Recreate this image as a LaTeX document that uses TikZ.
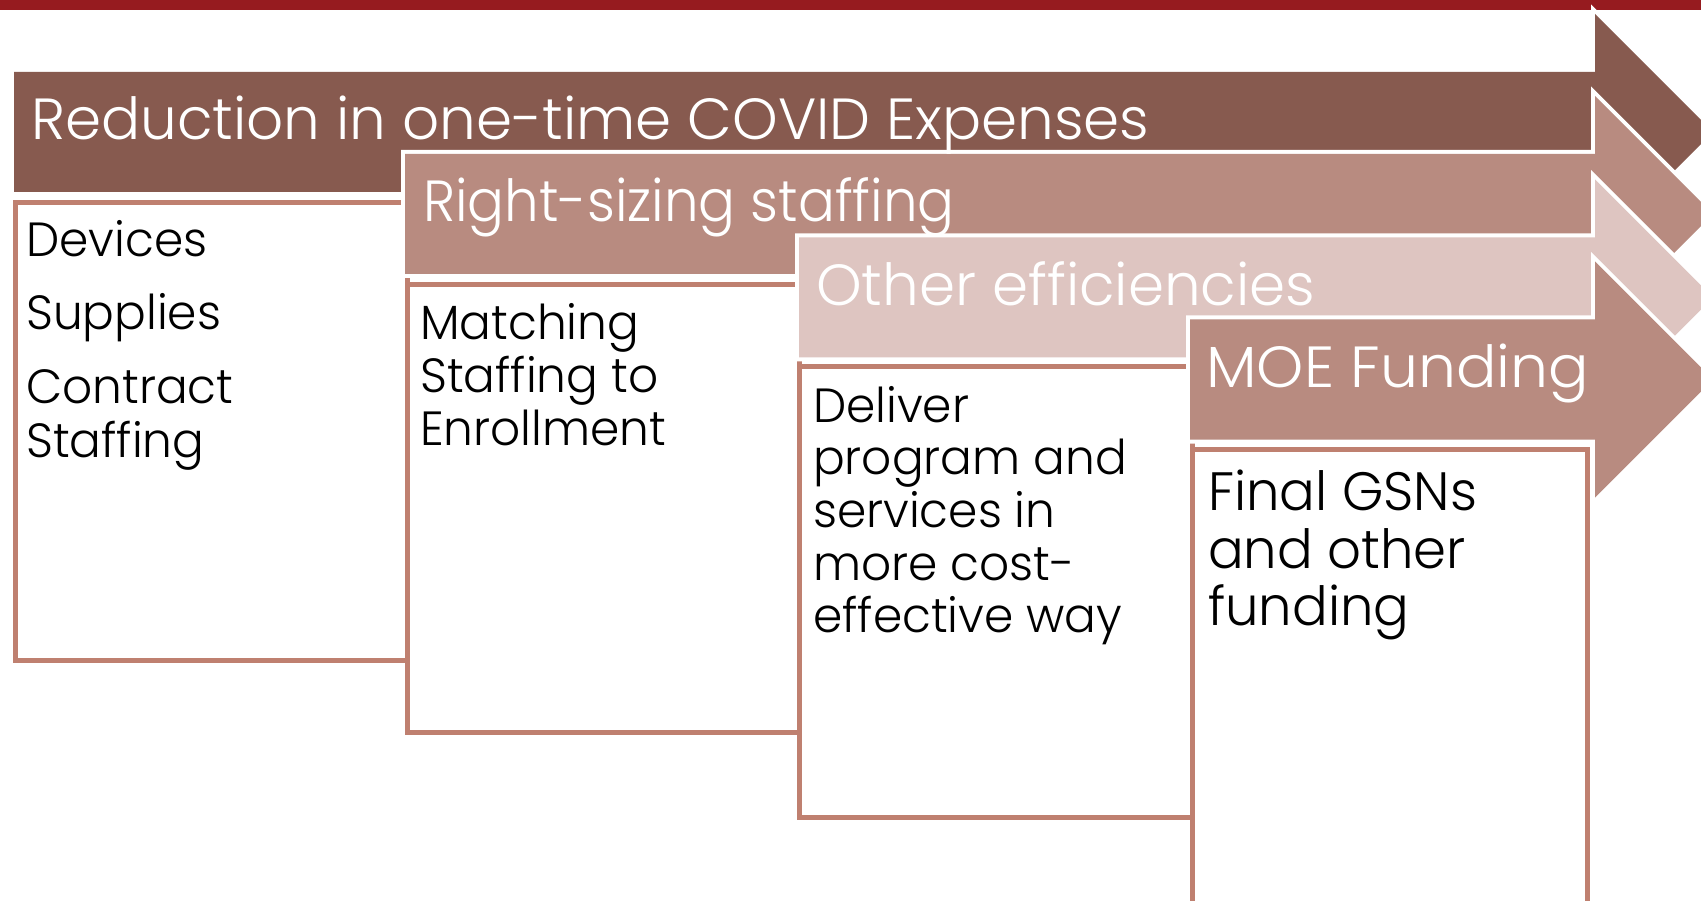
\documentclass[tikz,border=0pt]{standalone}
\usepackage{fontspec}
\setmainfont{Poppins}[UprightFont=* Light, FakeStretch=0.98]
\definecolor{redbar}{HTML}{961B1F}
\definecolor{arrowdark}{HTML}{875A4F}
\definecolor{arrowmid}{HTML}{B88B80}
\definecolor{arrowlight}{HTML}{DEC5C1}
\definecolor{boxline}{HTML}{BF8070}
\begin{document}
\begin{tikzpicture}[x=1pt,y=-1pt,
  arrowshape/.style={fill=#1, preaction={draw=white, line width=8pt, line join=miter}},
  boxshape/.style={draw=boxline, fill=white, line width=5pt, inner sep=0pt, anchor=north west},
  titletext/.style={text=white, font=\fontsize{58}{64}\selectfont\addfontfeatures{FakeStretch=#1}, anchor=base west, inner sep=0pt},
  titletext/.default=1.0,
  bodytext/.style={text=black, font=\fontsize{48}{54}\selectfont, anchor=base west, inner sep=0pt},
  bigtext/.style={text=black, font=\fontsize{54}{60}\selectfont, anchor=base west, inner sep=0pt}
]
\useasboundingbox (0,0) rectangle (1701,901);
\clip (0,0) rectangle (1701,901);
\fill[redbar] (0,0) rectangle (1701,10);

% content boxes
\node[boxshape, minimum width=392.5pt, minimum height=458pt] (box1) at (12.5,200) {};
\node[boxshape, minimum width=392pt, minimum height=448pt] (box2) at (405,282) {};
\node[boxshape, minimum width=393pt, minimum height=451pt] (box3) at (797,364) {};
\node[boxshape, minimum width=395pt, minimum height=470pt] (box4) at (1190,447) {};

% arrows
\path[arrowshape=arrowdark] (14,72) -- (1595,72) -- (1595,14) -- (1713,132) -- (1595,250) -- (1595,192) -- (14,192) -- cycle;
\path[arrowshape=arrowmid] (405,154) -- (1595,154) -- (1595,96) -- (1713,214) -- (1595,332) -- (1595,274) -- (405,274) -- cycle;
\path[arrowshape=arrowlight] (799,237.5) -- (1595,237.5) -- (1595,179.5) -- (1713,297.5) -- (1595,415.5) -- (1595,357.5) -- (799,357.5) -- cycle;
\path[arrowshape=arrowmid] (1190,319.5) -- (1595,319.5) -- (1595,261.5) -- (1713,379.5) -- (1595,497.5) -- (1595,439.5) -- (1190,439.5) -- cycle;

% titles
\node[titletext] (title1) at (31,140) {Reduction in one-time COVID Expenses};
\node[titletext=0.943] (title2) at (423,222) {Right-sizing staffing};
\node[titletext] (title3) at (816,306) {Other efficiencies};
\node[titletext=1.035] (title4) at (1206,388) {MOE Funding};

% box texts
\node[bodytext] (b1l1) at (26,257) {Devices};
\node[bodytext] (b1l2) at (26,330) {Supplies};
\node[bodytext] (b1l3) at (26,403) {Contract};
\node[bodytext] (b1l4) at (26,457) {Staffing};

\node[bodytext] (b2l1) at (420,340) {Matching};
\node[bodytext] (b2l2) at (420,392) {Staffing to};
\node[bodytext] (b2l3) at (420,445) {Enrollment};

\node[bodytext] (b3l1) at (813,422) {Deliver};
\node[bodytext] (b3l2) at (813,474) {program and};
\node[bodytext] (b3l3) at (813,527) {services in};
\node[bodytext] (b3l4) at (813,580) {more cost-};
\node[bodytext] (b3l5) at (813,632) {effective way};

\node[bigtext] (b4l1) at (1208,510) {Final GSNs};
\node[bigtext] (b4l2) at (1208,568) {and other};
\node[bigtext] (b4l3) at (1208,625) {funding};
\end{tikzpicture}
\end{document}
